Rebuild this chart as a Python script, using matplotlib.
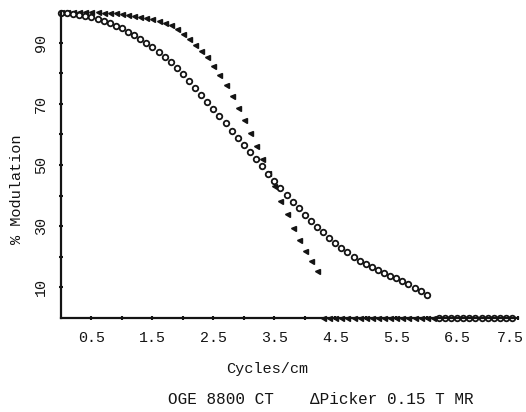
import matplotlib
matplotlib.use('Agg')
import matplotlib.pyplot as plt
import matplotlib.transforms as mtrans

# GE 8800 CT (open circles)
ge_x = [0.0, 0.1, 0.2, 0.3, 0.4, 0.5, 0.6, 0.7, 0.8, 0.9,
        1.0, 1.1, 1.2, 1.3, 1.4, 1.5, 1.6, 1.7, 1.8, 1.9,
        2.0, 2.1, 2.2, 2.3, 2.4, 2.5, 2.6, 2.7, 2.8, 2.9,
        3.0, 3.1, 3.2, 3.3, 3.4, 3.5, 3.6, 3.7, 3.8, 3.9,
        4.0, 4.1, 4.2, 4.3, 4.4, 4.5, 4.6, 4.7, 4.8, 4.9,
        5.0, 5.1, 5.2, 5.3, 5.4, 5.5, 5.6, 5.7, 5.8, 5.9, 6.0,
        6.2, 6.3, 6.4, 6.5, 6.6, 6.7, 6.8, 6.9, 7.0, 7.1, 7.2, 7.3, 7.4]
ge_y = [99.6, 99.6, 99.4, 99.1, 98.7, 98.2, 97.7, 97.1, 96.4, 95.5,
        94.6, 93.6, 92.5, 91.2, 89.9, 88.5, 86.9, 85.3, 83.5, 81.6,
        79.6, 77.5, 75.3, 73.0, 70.7, 68.3, 66.0, 63.6, 61.2, 58.9,
        56.6, 54.2, 51.9, 49.6, 47.2, 44.8, 42.5, 40.2, 38.0, 35.9,
        33.8, 31.8, 29.9, 28.0, 26.3, 24.6, 23.0, 21.5, 20.1, 18.8,
        17.6, 16.6, 15.6, 14.7, 13.8, 13.0, 12.0, 11.0, 9.9, 8.7, 7.5,
        0, 0, 0, 0, 0, 0, 0, 0, 0, 0, 0, 0, 0]

# Picker 0.15 T MR (triangles)
pk_x = [0.0, 0.1, 0.2, 0.3, 0.4, 0.5, 0.6, 0.7, 0.8, 0.9,
        1.0, 1.1, 1.2, 1.3, 1.4, 1.5, 1.6, 1.7, 1.8, 1.9,
        2.0, 2.1, 2.2, 2.3, 2.4, 2.5, 2.6, 2.7, 2.8, 2.9,
        3.0, 3.1, 3.2, 3.3, 3.4, 3.5, 3.6, 3.7, 3.8, 3.9,
        4.0, 4.1, 4.2,
        4.3, 4.4, 4.5, 4.6, 4.7, 4.8, 4.9, 5.0, 5.1, 5.2,
        5.3, 5.4, 5.5, 5.6, 5.7, 5.8, 5.9, 6.0, 6.1]
pk_y = [100.0, 100.0, 100.0, 100.0, 100.0, 100.0, 100.0, 99.8, 99.7, 99.5,
        99.3, 99.1, 98.8, 98.5, 98.1, 97.6, 97.1, 96.4, 95.6, 94.5,
        92.8, 91.1, 89.3, 87.4, 85.2, 82.4, 79.3, 76.0, 72.5, 68.7,
        64.7, 60.6, 56.2, 52.0, 47.4, 43.0, 38.4, 33.9, 29.5, 25.6,
        22.0, 18.6, 15.4,
        0, 0, 0, 0, 0, 0, 0, 0, 0, 0,
        0, 0, 0, 0, 0, 0, 0, 0, 0]

x_ticks = [0.5, 1.5, 2.5, 3.5, 4.5, 5.5, 6.5, 7.5]
y_ticks = [10, 30, 50, 70, 90]

plt.rcParams['font.family'] = ['Liberation Mono', 'DejaVu Sans Mono']
ink = '#141414'

fig = plt.figure(figsize=(5.26, 4.12), dpi=100)
ax = fig.add_axes([0.116, 0.228, 0.869, 0.743])

ax.plot(pk_x, pk_y, linestyle='none', marker='<', markersize=3.6,
        color=ink, clip_on=False)
ax.plot(ge_x, ge_y, linestyle='none', marker='o', markersize=4,
        markerfacecolor='white', markeredgecolor=ink, markeredgewidth=1.3,
        clip_on=False)

ax.set_xlim(0, 7.5)
ax.set_ylim(0, 100)
for s in ['top', 'right']:
    ax.spines[s].set_visible(False)
for s in ['left', 'bottom']:
    ax.spines[s].set_linewidth(1.6)
    ax.spines[s].set_color(ink)

ax.set_xticks(x_ticks)
ax.set_xticklabels([str(v) for v in x_ticks])
ax.set_xticks([1.0, 2.0, 3.0, 4.0, 5.0, 6.0, 7.0], minor=True)
ax.set_yticks(y_ticks)
ax.set_yticklabels([str(v) for v in y_ticks], rotation=90, va='center')
ax.set_yticks([20, 40, 60, 80], minor=True)
ax.tick_params(which='both', direction='inout', length=3, width=1.5,
               color=ink, labelsize=10.8, labelcolor=ink)
ax.tick_params(axis='x', pad=8)
ax.tick_params(axis='y', pad=8)

# last label sits a little inside the axis end in the original
last = ax.get_xticklabels()[-1]
last.set_transform(last.get_transform() +
                   mtrans.ScaledTranslation(-8 / 100, 0, fig.dpi_scale_trans))

ax.set_xlabel('Cycles/cm', fontsize=11, color=ink)
ax.xaxis.set_label_coords(0.45, -0.145)
ax.set_ylabel('% Modulation', fontsize=11, color=ink)
ax.yaxis.set_label_coords(-0.08, 0.42)

fig.text(168 / 526, 1 - 400 / 412, 'OGE 8800 CT', fontsize=11.5,
         color=ink, va='center', ha='left')
fig.text(310 / 526, 1 - 400 / 412, '\u0394Picker 0.15 T MR', fontsize=11.5,
         color=ink, va='center', ha='left')

fig.savefig('out.png', dpi=100, facecolor='white')
